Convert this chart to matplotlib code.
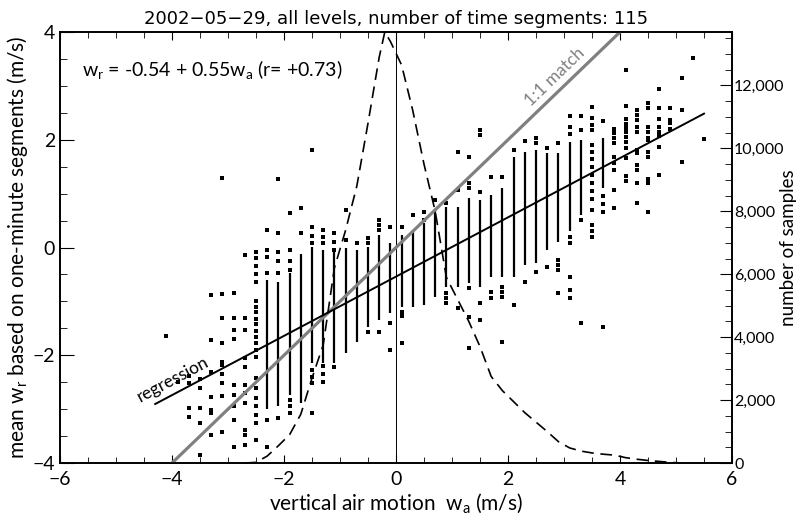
import matplotlib
matplotlib.use('Agg')
import matplotlib.pyplot as plt
from matplotlib.ticker import MultipleLocator, FuncFormatter

plt.rcParams['font.family'] = ['Lato', 'DejaVu Sans']
plt.rcParams['mathtext.fontset'] = 'custom'
plt.rcParams['mathtext.rm'] = 'Lato'
plt.rcParams['mathtext.it'] = 'Lato:italic'

# 每一列 wa 的取值（0.2 m/s 一档）
col_wa = [-4.1, -3.9, -3.7, -3.5, -3.3, -3.1, -2.9, -2.7, -2.5, -2.3, -2.1, -1.9, -1.7,
          -1.5, -1.3, -1.1, -0.9, -0.7, -0.5, -0.3, -0.1, 0.1, 0.3, 0.5, 0.7, 0.9,
          1.1, 1.3, 1.5, 1.7, 1.9, 2.1, 2.3, 2.5, 2.7, 2.9, 3.1, 3.3, 3.5, 3.7, 3.9,
          4.1, 4.3, 4.5, 4.7, 4.9, 5.1, 5.3, 5.5]
# 密集部分的上下界（None 表示没有密集段）
col_hi = [None, None, None, None, None, None, None, None, None, -0.6, -0.64, -0.47, -0.12,
          0.01, -0.05, -0.08, -0.01, -0.05, 0.01, 0.23, 0.08, 0.23, 0.33, 0.45, 0.7, 0.75,
          0.75, 0.92, 0.88, 0.97, 1.1, 1.68, 1.77, 1.81, 1.75, 1.75, 1.95, 2.0, None, 2.03, None,
          None, None, None, None, None, None, None, None]
col_lo = [None, None, None, None, None, None, None, None, None, -3.0, -2.95, -2.73, -2.89,
          -2.14, -2.14, -2.14, -1.96, -1.75, -1.47, -1.34, -1.21, -1.1, -1.1, -1.07, -0.92, -0.73,
          -0.73, -0.66, -0.73, -0.55, -0.55, -0.55, -0.32, -0.29, -0.04, 0.1, 0.3, 0.6, None, 1.1, None,
          None, None, None, None, None, None, None, None]
# 零散的点
col_pts = [
    [-1.65],
    [-2.49],
    [-2.39, -2.52, -2.98, -3.14],
    [-2.44, -2.61, -2.98, -3.26, -3.85],
    [-0.88, -1.71, -2.31, -2.77, -3.01, -3.07, -3.48],
    [1.29, -0.86, -1.31, -1.78, -2.12, -2.18, -2.35, -2.52, -2.76, -3.42],
    [-0.84, -1.31, -1.53, -1.70, -2.55, -2.73, -2.95, -3.2, -3.7],
    [-0.14, -1.31, -1.53, -2.05, -2.21, -2.55, -2.7, -2.89, -3.38, -3.48, -3.66],
    [-0.08, -0.2, -0.35, -0.5, -0.64, -1.0, -1.1, -1.2, -1.32, -1.42, -1.55, -1.66,
     -1.78, -1.9, -2.03, -2.42, -2.6, -2.8, -2.95, -3.1, -3.26, -3.57],
    [0.33, -0.05, -0.17, -0.47, -3.2, -3.7],
    [1.27, 0.27, -0.08, -0.25, -0.47, -3.16],
    [0.64, -0.05, -0.25, -0.42, -2.83, -2.95, -3.07],
    [0.73, 0.27],
    [1.81, 0.38, 0.22, 0.08, -2.27, -2.4, -2.51, -3.07],
    [0.33, 0.2, 0.08, -2.2, -2.35, -2.5],
    [0.27, 0.1, -0.05, -2.21],
    [0.7, 0.14],
    [0.08],
    [0.18, 0.08, -1.57],
    [0.51, 0.42, 0.33, -1.57],
    [0.38, -1.4, -1.9],
    [0.38, -1.2, -1.28, -1.77],
    [0.6],
    [0.66, 0.51],
    [0.88],
    [0.83, -0.84, -0.94, -1.03],
    [1.77, 1.07, -1.12],
    [1.68, 1.2, 1.1, -0.75, -1.29, -1.86],
    [2.18, 2.09, 1.03, -1.03, -1.34],
    [1.31, -0.82, -0.94],
    [1.31, -0.73, -0.83, -0.92, -1.75],
    [1.81, -1.07],
    [1.97, -0.64],
    [2.03, 1.94, -0.45],
    [1.85, -0.36],
    [1.94, -0.23, -0.32, -0.42, -0.84],
    [2.44, 2.24, 2.1, 0.2, 0.08, -0.55, -0.79, -0.94],
    [2.44, 2.18, 0.51, -1.4],
    [2.61, 2.4, 2.28, 2.18, 1.9, 1.78, 1.65, 1.5, 1.35, 1.2, 1.05, 0.9, 0.7, 0.42, 0.3, 0.2],
    [2.35, 0.95, 0.8, 0.66, -1.47],
    [2.2, 2.12, 2.03, 1.94, 1.68, 1.56, 1.44, 1.07, 0.73],
    [3.29, 2.63, 2.38, 2.3, 2.22, 2.14, 2.06, 1.96, 1.85, 1.66, 1.33, 1.24],
    [2.55, 2.46, 2.37, 2.24, 2.15, 1.81, 1.75, 1.53, 1.44, 1.2, 0.83],
    [2.68, 2.59, 2.24, 2.15, 2.03, 2.0, 1.77, 1.68, 1.27, 1.2, 0.66],
    [2.94, 2.59, 2.38, 2.24, 2.15, 2.07, 1.87, 1.35],
    [2.59, 2.37, 2.31, 2.2],
    [3.15, 2.55, 1.59],
    [3.52],
    [2.01],
]

# 样本数分布（虚线，右轴）
hist_wa = [-2.7, -2.5, -2.3, -2.1, -1.9, -1.7, -1.5, -1.3, -1.1, -0.9, -0.7, -0.5, -0.3,
           -0.2, -0.1, 0.1, 0.3, 0.5, 0.7, 0.9, 1.1, 1.3, 1.5, 1.7, 1.9, 2.1, 2.3, 2.5,
           2.7, 2.9, 3.1, 3.3, 3.5, 3.7, 3.9, 4.1, 4.3, 4.5, 4.7, 4.9, 5.1]
hist_n = [0, 20, 220, 550, 900, 1550, 2700, 3750, 6200, 7400, 8800, 10800, 12900,
          13700, 13400, 12650, 11200, 9500, 8000, 5900, 5200, 4500, 3700, 2750, 2300, 1950,
          1600, 1300, 1000, 680, 480, 380, 320, 280, 250, 170, 120, 80, 50, 20, 0]

reg_a, reg_b = -0.54, 0.55
reg_x = [-4.3, 5.5]
one_x = [-4.0, 4.0]

fig = plt.figure(figsize=(8, 5.24), dpi=100)
ax = fig.add_axes([0.075, 0.1164, 0.84, 0.8225])

# 密集段
for x, lo, hi in zip(col_wa, col_lo, col_hi):
    if lo is not None:
        ax.vlines(x, lo, hi, colors='black', linewidth=1.6, zorder=2)
# 零散点
px, py = [], []
for x, pts in zip(col_wa, col_pts):
    px += [x] * len(pts)
    py += pts
ax.scatter(px, py, s=6, marker='s', color='black', linewidths=0, zorder=2)

ax.plot(one_x, one_x, color='#808080', linewidth=2.3, zorder=3)
ax.plot(reg_x, [reg_a + reg_b * v for v in reg_x], color='black', linewidth=1.4, zorder=4)
ax.axvline(0, color='black', linewidth=0.7, zorder=1)

ax.text(-3.98, -2.45, 'regression', rotation=28, ha='center', va='center', fontsize=12.5)
ax.text(2.84, 3.17, '1:1 match', rotation=44, ha='center', va='center', fontsize=12.5,
        color='#808080')
ax.text(0.033, 0.912, r'w$_\mathregular{r}$ = -0.54 + 0.55w$_\mathregular{a}$ (r= +0.73)',
        transform=ax.transAxes, ha='left', va='center', fontsize=14)

ax.set_xlim(-6, 6)
ax.set_ylim(-4, 4)
ax.xaxis.set_major_locator(MultipleLocator(2))
ax.xaxis.set_minor_locator(MultipleLocator(0.5))
ax.yaxis.set_major_locator(MultipleLocator(2))
ax.yaxis.set_minor_locator(MultipleLocator(0.5))
fmt = FuncFormatter(lambda v, p: f'{v:.0f}'.replace('-', '\u2212'))
ax.xaxis.set_major_formatter(fmt)
ax.yaxis.set_major_formatter(fmt)
ax.tick_params(axis='x', which='major', direction='in', length=6, top=True, labelsize=14, pad=6)
ax.tick_params(axis='x', which='minor', direction='in', length=4, top=True)
ax.tick_params(axis='y', which='major', direction='in', length=10, labelsize=14)
ax.tick_params(axis='y', which='minor', direction='in', length=5)
ax.set_xlabel(r'vertical air motion  w$_\mathregular{a}$ (m/s)', fontsize=15, labelpad=2)
ax.set_ylabel(r'mean w$_\mathregular{r}$ based on one-minute segments (m/s)', fontsize=15,
              labelpad=2)
ax.set_title('2002\u221205\u221229, all levels, number of time segments: 115', fontsize=13,
             family='DejaVu Sans', pad=6)

ax2 = ax.twinx()
ax2.plot(hist_wa, hist_n, color='black', linestyle=(0, (7, 4)), linewidth=1.2, zorder=2)
ax2.set_ylim(0, 13700)
ax2.yaxis.set_major_locator(MultipleLocator(2000))
ax2.yaxis.set_minor_locator(MultipleLocator(500))
ax2.yaxis.set_major_formatter(FuncFormatter(lambda v, p: f'{v:,.0f}'))
ax2.tick_params(axis='y', which='major', direction='in', length=9, labelsize=11.5, pad=1.5)
ax2.tick_params(axis='y', which='minor', direction='in', length=5)
ax2.set_ylabel('number of samples', fontsize=13.5, va='center')
ax2.yaxis.set_label_coords(1.084, 0.5)

for a in (ax, ax2):
    for s in a.spines.values():
        s.set_linewidth(1.2)

fig.savefig('out.png', dpi=100)
